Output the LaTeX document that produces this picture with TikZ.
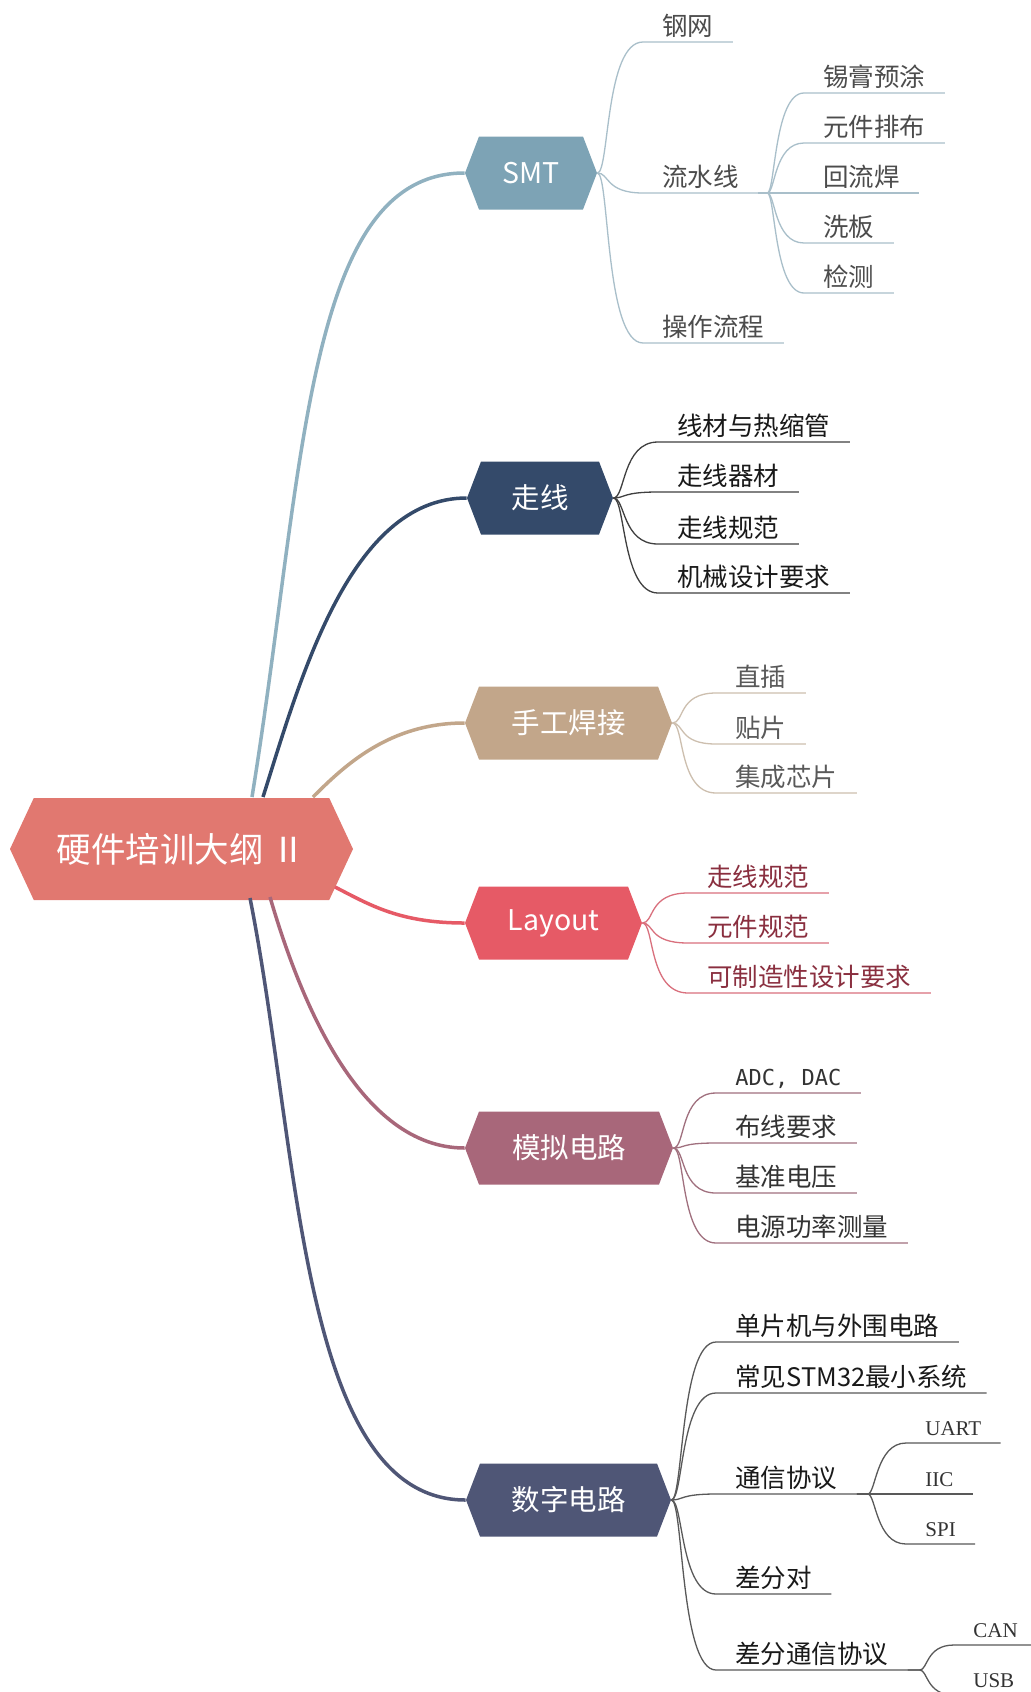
\documentclass[tikz,border=0pt]{standalone}
\usepackage{fontspec}
\usepackage{tikz}
\usetikzlibrary{shapes.symbols,calc}
\newfontfamily\cjk{Noto Sans CJK SC}
\newfontfamily\serifen{Liberation Serif}
\newfontfamily\monoen{DejaVu Sans Mono}
\definecolor{rootc}{HTML}{E17870}
\definecolor{smtc}{HTML}{7DA3B5}
\definecolor{smtl}{HTML}{A9BFCA}
\definecolor{zxc}{HTML}{344A6A}
\definecolor{sgc}{HTML}{C2A68A}
\definecolor{sgl}{HTML}{CDBFAF}
\definecolor{layc}{HTML}{E65A66}
\definecolor{layl}{HTML}{D9707D}
\definecolor{layt}{HTML}{8A2F3F}
\definecolor{mnc}{HTML}{A8677A}
\definecolor{mnl}{HTML}{A0707E}
\definecolor{szc}{HTML}{4F5676}
\tikzset{
  topic/.style={shape=signal, signal to=west and east, signal pointer angle=138,
    fill=#1, draw=none, text=white, inner sep=0pt, minimum height=36.5pt,
    font=\cjk\fontsize{14.25}{16}\selectfont},
  leaf/.style={anchor=south west, inner xsep=9.5pt, inner ysep=2pt, text=#1,
    font=\cjk\fontsize{12.75}{15}\selectfont},
  abbr/.style={inner ysep=3.5pt, font=\serifen\fontsize{10.5}{12}\selectfont},
  link/.style={draw=#1, line width=1.75pt},
  twig/.style={draw=#1, line width=0.65pt},
}
\begin{document}
\begin{tikzpicture}[x=0.5pt,y=-0.5pt]
\fill[white, use as bounding box] (0,0) rectangle (1030,1692);

% centre and main topics
\node[topic=rootc, signal pointer angle=130, minimum width=171.5pt, minimum height=51pt,
  font=\cjk\fontsize{17.25}{20}\selectfont] (root) at (181.5,849) {硬件培训大纲 Ⅱ};
\node[topic=smtc, minimum width=66pt] (smt) at (531,173) {SMT};
\node[topic=zxc, minimum width=73pt] (zx) at (540,498) {走线};
\node[topic=sgc, minimum width=103.5pt] (sg) at (568.5,723) {手工焊接};
\node[topic=layc, minimum width=88.5pt] (lay) at (553.5,923) {Layout};
\node[topic=mnc, minimum width=104pt] (mn) at (569,1148) {模拟电路};
\node[topic=szc, minimum width=102.5pt] (sz) at (568.5,1500) {数字电路};

\draw[link=smtc!85!white] ($(root.center)+(70.5,-52)$) .. controls +(53,-327) and +(-160,0) .. (smt.west);
\draw[link=zxc] ($(root.center)+(81.5,-52)$) .. controls +(37,-117) and +(-117,0) .. (zx.west);
\draw[link=sgc] ($(root.center)+(131.5,-52)$) .. controls +(32,-32) and +(-75,0) .. (sg.west);
\draw[link=layc] ($(root.center)+(153.5,38)$) .. controls +(35,18) and +(-65,0) .. (lay.west);
\draw[link=mnc] ($(root.center)+(88.5,48)$) .. controls +(30,103) and +(-105,0) .. (mn.west);
\draw[link=szc] ($(root.center)+(68.5,49)$) .. controls +(50,252) and +(-166,0) .. (sz.west);

% SMT
\node[leaf=black!70] (gw) at (643,42) {钢网};
\node[leaf=black!70] (lsx) at (643,193) {流水线};
\node[leaf=black!70] (czlc) at (643,343) {操作流程};
\node[leaf=black!70] (xgyt) at (804,93) {锡膏预涂};
\node[leaf=black!70] (yjpb) at (804,143) {元件排布};
\node[leaf=black!70] (hlh) at (804,193) {回流焊};
\node[leaf=black!70] (xb) at (804,243) {洗板};
\node[leaf=black!70] (jc) at (804,293) {检测};
\foreach \n in {gw,lsx,czlc}
  \draw[twig=smtl] (smt.east) .. controls +(12,0) and +(-38,0) .. (\n.south west) -- (\n.south east);
\foreach \n in {xgyt,yjpb,hlh,xb,jc}
  \draw[twig=smtl] (lsx.south east) -- ++(9,0) .. controls +(8,0) and +(-30,0) .. (\n.south west) -- (\n.south east);

% 走线
\node[leaf=black!90] (xcrs) at (658,442) {线材与热缩管};
\node[leaf=black!90] (zxqc) at (658,492) {走线器材};
\node[leaf=black!90] (zxgf) at (658,544) {走线规范};
\node[leaf=black!90] (jxsj) at (658,593) {机械设计要求};
\foreach \n in {xcrs,zxqc,zxgf,jxsj}
  \draw[twig=black!75] (zx.east) .. controls +(12,0) and +(-36,0) .. (\n.south west) -- (\n.south east);

% 手工焊接
\node[leaf=black!65] (zc) at (716,693) {直插};
\node[leaf=black!65] (tp) at (716,744) {贴片};
\node[leaf=black!65] (jcxp) at (716,793) {集成芯片};
\foreach \n in {zc,tp,jcxp}
  \draw[twig=sgl] (sg.east) .. controls +(12,0) and +(-38,0) .. (\n.south west) -- (\n.south east);

% Layout
\node[leaf=layt] (lzx) at (688,893) {走线规范};
\node[leaf=layt] (lyj) at (688,943) {元件规范};
\node[leaf=layt] (kzz) at (688,993) {可制造性设计要求};
\foreach \n in {lzx,lyj,kzz}
  \draw[twig=layl] (lay.east) .. controls +(12,0) and +(-40,0) .. (\n.south west) -- (\n.south east);

% 模拟电路
\node[leaf=black!80] (adc) at (716,1093) {\monoen\fontsize{11}{13}\selectfont ADC, DAC};
\node[leaf=black!80] (bx) at (716,1143) {布线要求};
\node[leaf=black!80] (jzdy) at (716,1193) {基准电压};
\node[leaf=black!80] (dyg) at (716,1243) {电源功率测量};
\foreach \n in {adc,bx,jzdy,dyg}
  \draw[twig=mnl] (mn.east) .. controls +(12,0) and +(-36,0) .. (\n.south west) -- (\n.south east);

% 数字电路
\node[leaf=black!90] (dpj) at (716,1342) {单片机与外围电路};
\node[leaf=black!90] (stm) at (716,1393) {常见STM32最小系统};
\node[leaf=black!90] (tx) at (716,1494) {通信协议};
\node[leaf=black!90] (cfd) at (716,1594) {差分对};
\node[leaf=black!90] (cftx) at (716,1670) {差分通信协议};
\node[leaf=black!80, abbr] (uart) at (906,1443) {UART};
\node[leaf=black!80, abbr] (iic) at (906,1494) {IIC};
\node[leaf=black!80, abbr] (spi) at (906,1544) {SPI};
\node[leaf=black!80, abbr] (can) at (954,1645) {CAN};
\node[leaf=black!80, abbr] (usb) at (954,1695) {USB};
\foreach \n in {dpj,stm,tx,cfd,cftx}
  \draw[twig=black!65] (sz.east) .. controls +(12,0) and +(-36,0) .. (\n.south west) -- (\n.south east);
\foreach \n in {uart,iic,spi}
  \draw[twig=black!65] (tx.south east) -- ++(11,0) .. controls +(8,0) and +(-30,0) .. (\n.south west) -- (\n.south east);
\foreach \n in {can,usb}
  \draw[twig=black!65] (cftx.south east) -- ++(12,0) .. controls +(8,0) and +(-28,0) .. (\n.south west) -- (\n.south east);
\end{tikzpicture}
\end{document}
